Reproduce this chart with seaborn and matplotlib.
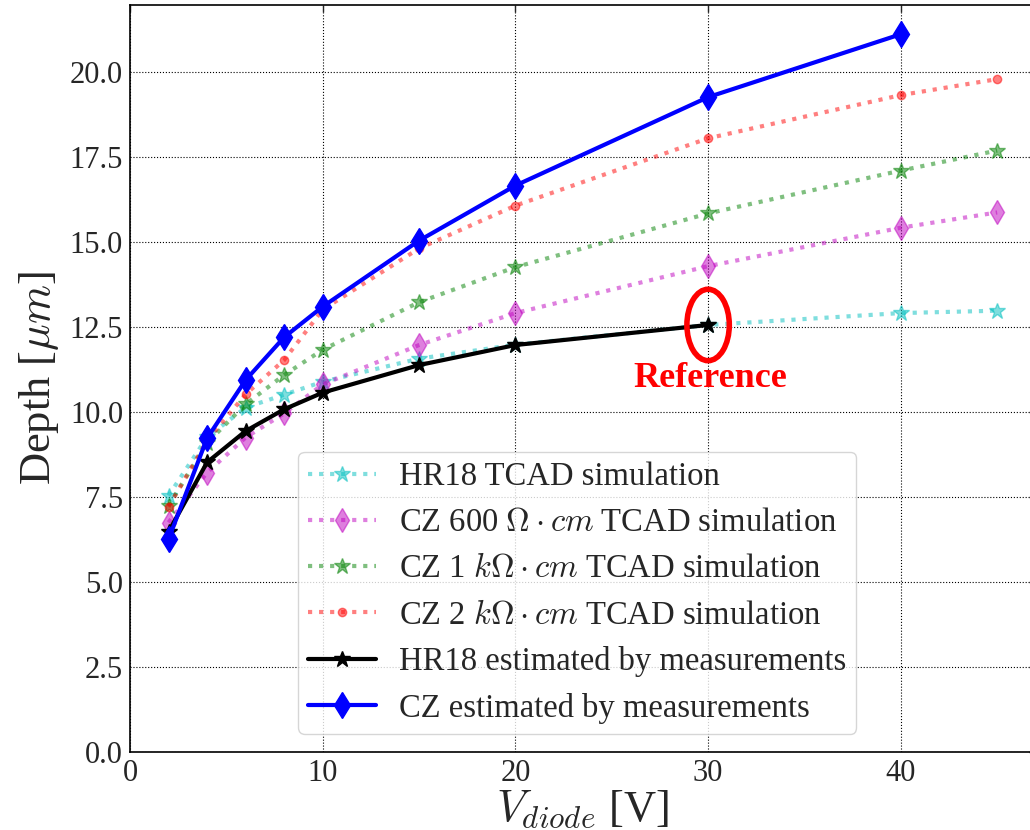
import matplotlib
matplotlib.use("Agg")
import matplotlib.pyplot as plt
import seaborn as sns
import pandas as pd
from matplotlib.patches import Ellipse

# ---------------- data ----------------
v_sim = [2, 4, 6, 8, 10, 15, 20, 30, 40, 45]
hr18_tcad = [7.53, 9.25, 10.12, 10.5, 10.88, 11.56, 11.97, 12.55, 12.9, 12.97]
cz600_tcad = [6.74, 8.21, 9.24, 9.95, 10.8, 11.96, 12.9, 14.28, 15.41, 15.86]
cz1k_tcad = [7.23, 9.08, 10.22, 11.08, 11.82, 13.22, 14.25, 15.83, 17.09, 17.68]
cz2k_tcad = [7.2, 9.15, 10.51, 11.52, 13.0, 14.8, 16.06, 18.04, 19.31, 19.78]

v_hr18_meas = [2, 4, 6, 8, 10, 15, 20, 30]
hr18_meas = [6.47, 8.51, 9.43, 10.07, 10.56, 11.37, 11.96, 12.55]

v_cz_meas = [2, 4, 6, 8, 10, 15, 20, 30, 40]
cz_meas = [6.25, 9.22, 10.93, 12.19, 13.09, 15.03, 16.65, 19.25, 21.1]

labels = [
    "HR18 TCAD simulation",
    r"CZ 600 $\Omega\cdot cm$ TCAD simulation",
    r"CZ 1 $k\Omega\cdot cm$ TCAD simulation",
    r"CZ 2 $k\Omega\cdot cm$ TCAD simulation",
    "HR18 estimated by measurements",
    "CZ estimated by measurements",
]

# ---------------- style ----------------
sns.set_style("white")
plt.rcParams["font.family"] = ["Liberation Serif", "DejaVu Serif"]
plt.rcParams["mathtext.fontset"] = "cm"

fig = plt.figure(figsize=(10.3, 8.3), dpi=100)
ax = fig.add_axes([130 / 1030, 1 - 751.7 / 830, 905.7 / 1030, 746.7 / 830])

series = [
    (v_sim, hr18_tcad, labels[0], dict(color="c", marker="*", ls=":", lw=3, ms=12, alpha=0.5)),
    (v_sim, cz600_tcad, labels[1], dict(color="m", marker="d", ls=":", lw=3, ms=12, alpha=0.5)),
    (v_sim, cz1k_tcad, labels[2], dict(color="g", marker="*", ls=":", lw=3, ms=12, alpha=0.5)),
    (v_sim, cz2k_tcad, labels[3], dict(color="r", marker="o", ls=":", lw=3, ms=6, alpha=0.5)),
    (v_hr18_meas, hr18_meas, labels[4], dict(color="k", marker="*", ls="-", lw=3, ms=12)),
    (v_cz_meas, cz_meas, labels[5], dict(color="b", marker="d", ls="-", lw=3, ms=13)),
]

for xs, ys, lab, kw in series:
    df = pd.DataFrame({"x": xs, "y": ys})
    sns.lineplot(data=df, x="x", y="y", ax=ax, label=lab, markeredgewidth=1,
                 markeredgecolor=kw["color"], **kw)

ax.set_xlim(0, 47)
ax.set_ylim(0, 21.96)
ax.set_xticks([0, 10, 20, 30, 40])
ax.set_yticks([0, 2.5, 5, 7.5, 10, 12.5, 15, 17.5, 20])
ax.set_yticklabels(["0.0", "2.5", "5.0", "7.5", "10.0", "12.5", "15.0", "17.5", "20.0"])
ax.grid(True, color="k", ls=":", lw=0.8)
ax.tick_params(direction="in", labelsize=22, top=True, right=True, length=5, width=1, pad=5)
for s in ax.spines.values():
    s.set_color("k")
    s.set_linewidth(1.2)

ax.set_xlabel(r"$V_{diode}$ [V]", fontsize=32, labelpad=0)
ax.set_ylabel(r"Depth [$\mu m$]", fontsize=32, labelpad=6)

# annotation
ell = Ellipse((30, 12.55), width=2.2, height=2.1, fill=False, edgecolor="red", lw=4, zorder=10)
ax.add_patch(ell)
ax.text(30.1, 10.98, "Reference", color="red", fontsize=26, fontweight="bold",
        ha="center", va="center")

leg = ax.legend(loc="lower left", bbox_to_anchor=(168 / 905.7, 18 / 746.7),
                fontsize=23.5, frameon=True, fancybox=True, framealpha=0.8,
                handlelength=2.1, handletextpad=0.7, labelspacing=0.48, borderpad=0.3,
                borderaxespad=0)
leg.get_frame().set_edgecolor("#cccccc")

fig.savefig("out.png", dpi=100)
